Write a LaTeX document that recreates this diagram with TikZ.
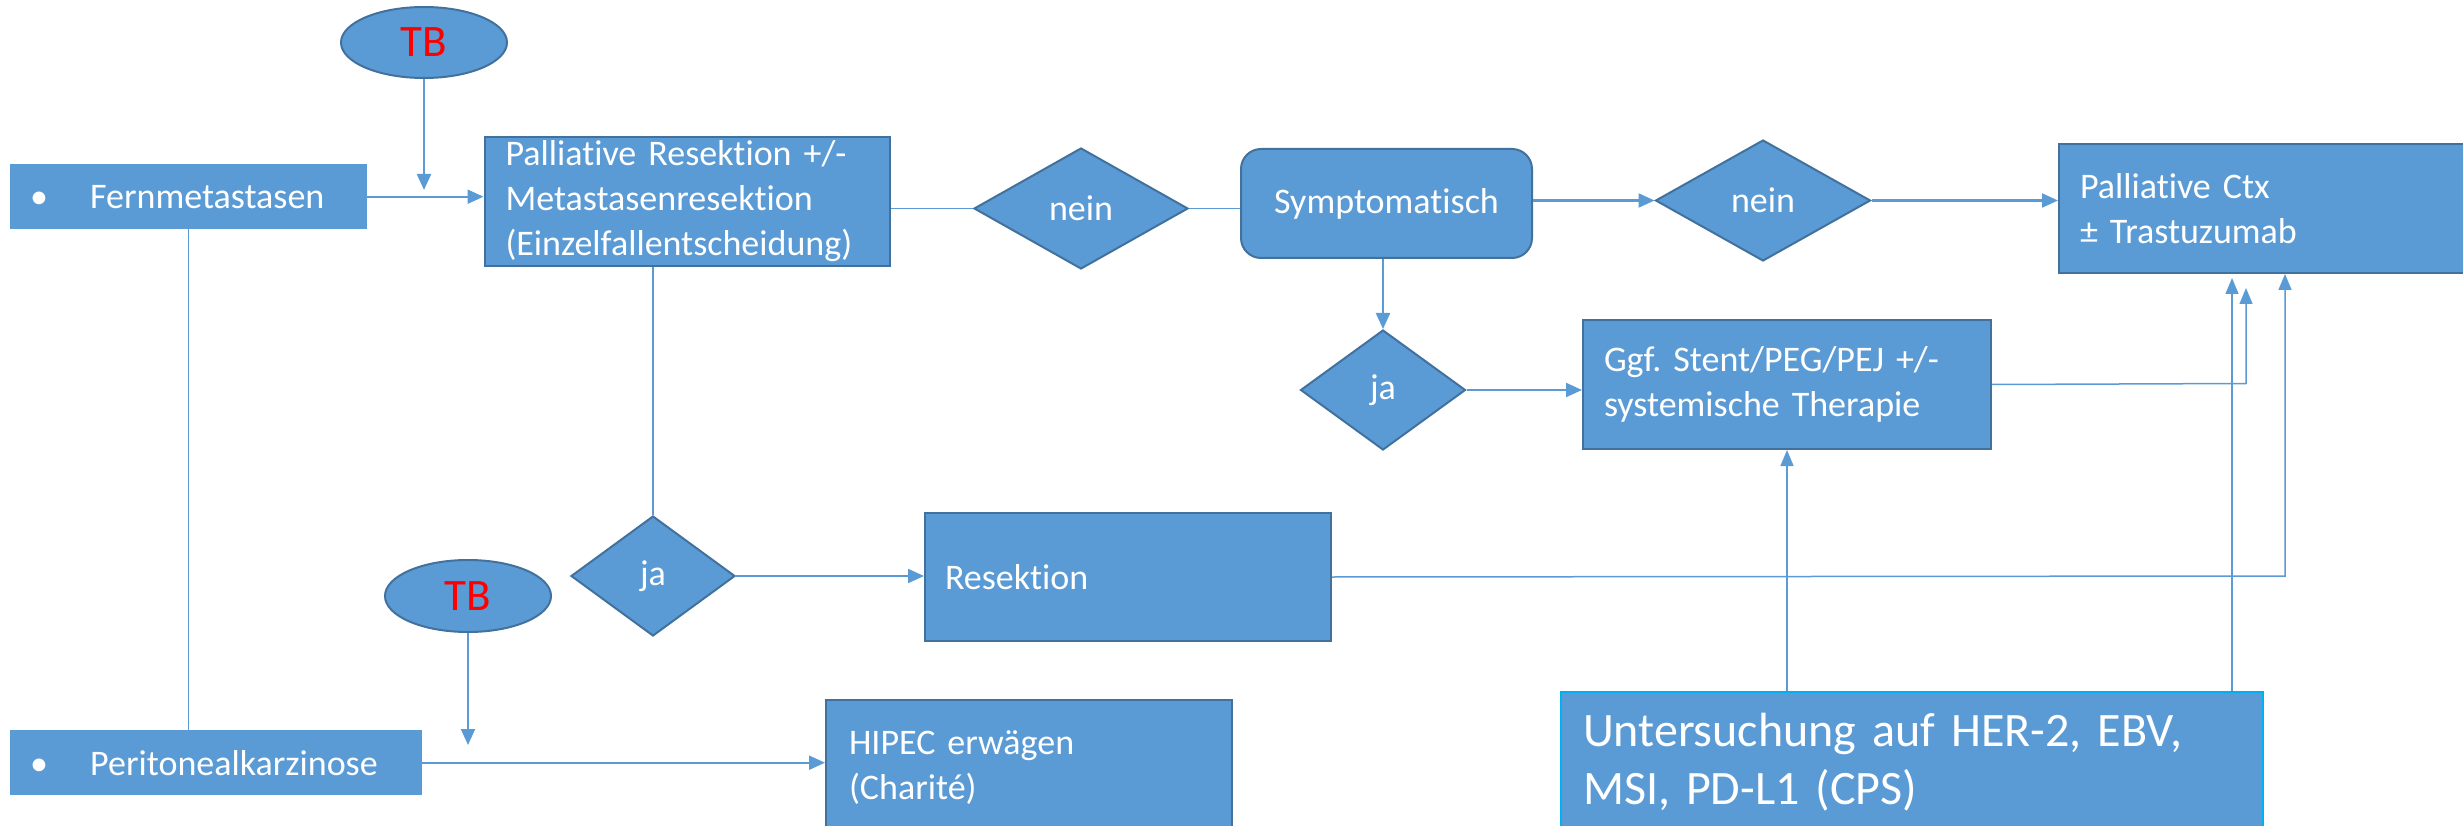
\documentclass[tikz,border=0pt]{standalone}
\usepackage{fontspec}
\setmainfont{Carlito}[Ligatures={NoCommon}]
\usetikzlibrary{shapes.geometric,arrows.meta}
\definecolor{bfill}{HTML}{5B9BD5}
\definecolor{bline}{HTML}{41719C}
\definecolor{cline}{HTML}{5B9BD5}
\definecolor{ucyan}{HTML}{00B0F0}
\frenchspacing
\begin{document}
\begin{tikzpicture}[x=1pt,y=-1pt,
  box/.style={fill=bfill, text=white, font=\fontsize{36}{45}\selectfont, align=left, anchor=north west, inner ysep=0pt, inner xsep=21pt},
  bdr/.style={draw=bline, line width=2pt},
  dia/.style={diamond, draw=bline, line width=2pt, fill=bfill, text=white, font=\fontsize{36}{45}\selectfont, inner sep=0pt},
  tb/.style={ellipse, draw=bline, line width=2pt, fill=bfill, text=red, font=\fontsize{45}{54}\selectfont, inner sep=0pt},
  arr/.style={draw=cline, line width=2.2pt, -{Triangle[length=16pt,width=14pt]}},
  ln/.style={draw=cline, line width=1.5pt},
  tarr/.style={ln, -{Triangle[length=16pt,width=13pt]}}
]
\useasboundingbox (0,0) rectangle (2463,826);

% nodes
\node[tb, minimum width=166pt, minimum height=71pt] (tb1) at (424,42.5) {TB};
\node[tb, minimum width=166pt, minimum height=72pt] (tb2) at (468,596) {TB};

\node[box, inner xsep=20pt, text width=317pt, minimum height=65pt] (fern) at (10,164) {\makebox[60pt][l]{\textbullet}Fernmetastasen};
\node[box, inner xsep=20pt, text width=372pt, minimum height=65pt] (perit) at (10,730) {\makebox[60pt][l]{\textbullet}Peritonealkarzinose};

\node[box, bdr, text width=363.5pt, minimum height=129pt] (pal) at (483.5,136) {Palliative Resektion +/-\\Metastasenresektion\\(Einzelfallentscheidung)};
\node[box, bdr, rounded corners=20pt, align=center, inner xsep=0pt, minimum width=291pt, minimum height=109pt] (symp) at (1240,148) {Symptomatisch};
\node[box, bdr, text width=370pt, minimum height=129pt] (ctx) at (2058,143) {Palliative Ctx\\± Trastuzumab};
\node[box, bdr, text width=366pt, minimum height=129pt] (ggf) at (1582,319) {Ggf. Stent/PEG/PEJ +/-\\systemische Therapie};
\node[box, bdr, inner xsep=20pt, text width=366pt, minimum height=128pt] (res) at (924,512) {Resektion};
\node[box, bdr, inner xsep=23pt, text width=360pt, minimum height=135pt] (hipec) at (825,699) {HIPEC erwägen\\(Charité)};
\node[box, draw=ucyan, line width=2pt, inner xsep=22pt, text width=658pt, minimum height=140pt, font=\fontsize{48}{58}\selectfont] (unt) at (1560,691) {Untersuchung auf HER-2, EBV,\\MSI, PD-L1 (CPS)};

\node[dia, minimum width=214pt, minimum height=121pt] (nein1) at (1081,208.5) {nein};
\node[dia, minimum width=215pt, minimum height=121pt] (nein2) at (1763,200.5) {nein};
\node[dia, minimum width=165pt, minimum height=120pt] (ja1) at (1383,390) {ja};
\node[dia, minimum width=164pt, minimum height=120pt] (ja2) at (653,576) {ja};

% free ends
\coordinate (tb1end) at (424,190);
\coordinate (tb2end) at (468,745);
\coordinate (gcorner) at (2246,383.5);
\coordinate (gtip) at (2246,288);
\coordinate (ucx) at (2232,0);
\coordinate (rc) at (2285,576);

% connectors
\draw[arr] (tb1.south) -- (tb1end);
\draw[arr] (fern.east) -- (fern.east -| pal.west);
\draw[ln] (pal.east |- nein1.west) -- (nein1.west);
\draw[ln] (nein1.east) -- (nein1.east -| symp.west);
\draw[arr] (symp.east |- nein2.west) -- (nein2.west);
\draw[arr] (nein2.east) -- (nein2.east -| ctx.west);
\draw[arr] (symp.south -| ja1.north) -- (ja1.north);
\draw[arr] (ja1.east) -- (ja1.east -| ggf.west);
\draw[ln] (ja2.north |- pal.south) -- (ja2.north);
\draw[arr] (ja2.east) -- (ja2.east -| res.west);
\draw[ln] (fern.south) -- (fern.south |- perit.north);
\draw[arr] (tb2.south) -- (tb2end);
\draw[arr] (perit.east) -- (perit.east -| hipec.west);
\draw[tarr] (ggf.east) -- (gcorner) -- (gtip);
\draw[tarr] (unt.north -| ggf.south) -- (ggf.south);
\draw[tarr, shorten >=4pt] (unt.north -| ucx) -- (ctx.south -| ucx);
\draw[tarr] (res.east) -- (rc) -- (ctx.south -| rc);
\end{tikzpicture}
\end{document}
